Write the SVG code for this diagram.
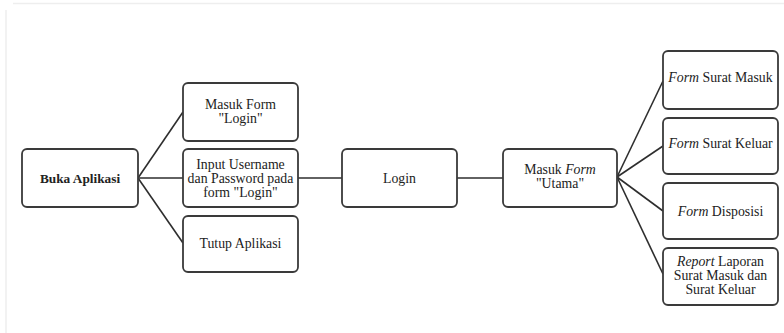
<svg xmlns="http://www.w3.org/2000/svg" width="784" height="333" viewBox="0 0 784 333">
<style>
.box{fill:#fff;stroke:#3a3a3a;stroke-width:1.8}
.c{fill:none;stroke:#2e2e2e;stroke-width:1.6}
text{font-family:"Liberation Serif","Times New Roman",serif;font-size:13.8px;fill:#222;text-anchor:middle}
.b{font-weight:bold;font-size:13.3px}
.i{font-style:italic}
.frame{stroke:#eeeeee;stroke-width:1.5;fill:none}
</style>
<rect width="784" height="333" fill="#fff"/>
<line class="frame" x1="13" y1="3.5" x2="784" y2="3.5"/>
<line class="frame" x1="6" y1="10" x2="6" y2="333" stroke="#f5f5f5"/>
<g id="connectors">
<line class="c" x1="138" y1="178" x2="183" y2="112"/>
<line class="c" x1="138" y1="178" x2="183" y2="178"/>
<line class="c" x1="138" y1="178" x2="183" y2="243"/>
<line class="c" x1="298" y1="178" x2="342" y2="178"/>
<line class="c" x1="457" y1="178" x2="503" y2="178"/>
<line class="c" x1="617" y1="177" x2="663" y2="81"/>
<line class="c" x1="617" y1="177" x2="663" y2="146"/>
<line class="c" x1="617" y1="177" x2="663" y2="211"/>
<line class="c" x1="617" y1="177" x2="663" y2="274"/>
</g>
<g id="buka">
<rect class="box" x="22" y="149" width="116" height="58" rx="5"/>
<text class="b" x="80" y="182.5">Buka Aplikasi</text>
</g>
<g id="masuk-login">
<rect class="box" x="183" y="83" width="115" height="58" rx="5"/>
<text x="240.5" y="108.5">Masuk Form</text>
<text x="240.5" y="123">"Login"</text>
</g>
<g id="input">
<rect class="box" x="183" y="149" width="115" height="58" rx="5"/>
<text x="240.5" y="168.5">Input Username</text>
<text x="240.5" y="182.5">dan Password pada</text>
<text x="240.5" y="196.5">form "Login"</text>
</g>
<g id="tutup">
<rect class="box" x="183" y="216" width="115" height="56" rx="5"/>
<text x="240.5" y="248">Tutup Aplikasi</text>
</g>
<g id="login">
<rect class="box" x="342" y="149" width="115" height="58" rx="5"/>
<text x="399.5" y="182.5">Login</text>
</g>
<g id="masuk-utama">
<rect class="box" x="503" y="149" width="114" height="58" rx="5"/>
<text x="560" y="173.5">Masuk <tspan class="i">Form</tspan></text>
<text x="560" y="187.5">"Utama"</text>
</g>
<g id="surat-masuk">
<rect class="box" x="663" y="51" width="115" height="58" rx="5"/>
<text x="720.5" y="81.5"><tspan class="i">Form</tspan> Surat Masuk</text>
</g>
<g id="surat-keluar">
<rect class="box" x="663" y="118" width="115" height="56" rx="5"/>
<text x="720.5" y="147.5"><tspan class="i">Form</tspan> Surat Keluar</text>
</g>
<g id="disposisi">
<rect class="box" x="663" y="183" width="115" height="56" rx="5"/>
<text x="720.5" y="215.5"><tspan class="i">Form</tspan> Disposisi</text>
</g>
<g id="report">
<rect class="box" x="663" y="248" width="115" height="57" rx="5"/>
<text x="720.5" y="266"><tspan class="i">Report</tspan> Laporan</text>
<text x="720.5" y="280">Surat Masuk dan</text>
<text x="720.5" y="294">Surat Keluar</text>
</g>
</svg>
